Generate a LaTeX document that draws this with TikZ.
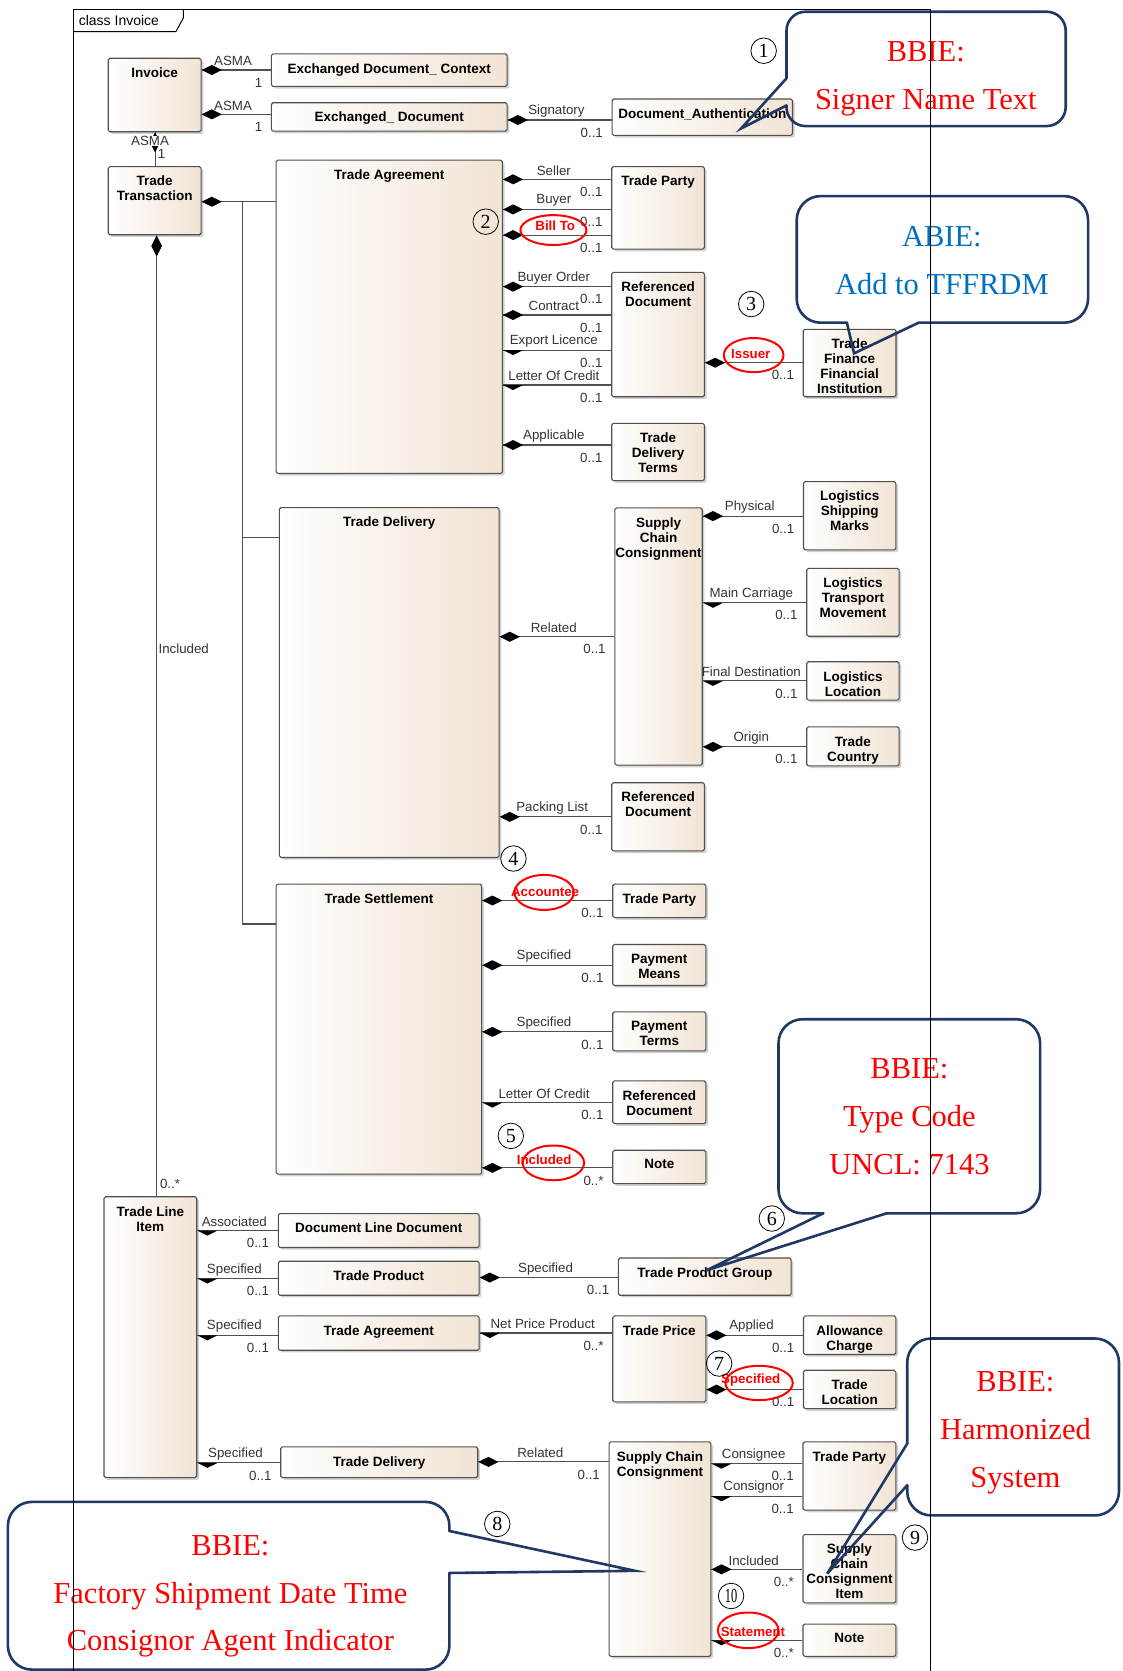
\documentclass[tikz,border=0pt]{standalone}
\usepackage{fontspec}
\usepackage{graphicx}
\setmainfont{Liberation Sans}
\newfontfamily\noteserif{Liberation Serif}
\usetikzlibrary{calc,fit,shadows}

\definecolor{beige}{RGB}{242,228,213}
\definecolor{navy}{RGB}{31,56,100}
\definecolor{abie}{RGB}{0,112,192}
\definecolor{edge}{RGB}{80,80,80}

\tikzset{
  box/.style={draw=edge, line width=1.1pt, rounded corners=1.6pt, inner sep=0pt,
    left color=white, right color=beige,
    drop shadow={shadow xshift=2.2pt, shadow yshift=-2.2pt, opacity=.3, fill=black!60}},
  clsname/.style={font=\fontsize{13.5}{15}\selectfont\bfseries, align=center, inner sep=0pt, text=black},
  conn/.style={draw=edge, line width=1.1pt},
  dmd/.style={fill=black},
  role/.style={font=\fontsize{13.3}{14}\selectfont, text=black!80, inner sep=0pt},
  mult/.style={role},
  redrole/.style={font=\fontsize{13.3}{14}\selectfont\bfseries, text=red, inner sep=0pt},
  ring/.style={draw=red, line width=2pt},
  notebubble/.style={draw=navy, line width=2.6pt, line cap=round, rounded corners=24pt},
  notetip/.style={draw=navy, line width=2.6pt, line cap=round},
  notetext/.style={font=\noteserif\fontsize{30.5}{47.8}\selectfont, align=center, inner sep=0pt, text=red, anchor=north},
  numc/.style={circle, draw=black, line width=0.8pt, inner sep=0pt, minimum size=25.5pt,
    font=\noteserif\fontsize{20}{20}\selectfont},
  diagframe/.style={draw=black, line width=1pt},
}

% a class box spanning two corners, its name set at the top
\newcommand\umlclass[6]{%
  \node[box, fit={(#2,#3) (#4,#5)}] (#1) {};
  \node[clsname, anchor=north] at ($(#1.north)+(0,9.2)$) {#6};
}

% horizontal composition: #1 f = full diamond, h = lower half, #2 whole, #3 part,
% #4 row, #5 role name, #6 multiplicity
\newcommand\umlassoc[6]{%
  \coordinate (s) at (#2.east |- 0,#4);
  \coordinate (t) at (#3.west |- 0,#4);
  \draw[conn] (s) -- (t);
  \if#1f\fill[dmd] (s) -- ++(9.5,-4.7) -- ++(9.5,4.7) -- ++(-9.5,4.7) -- cycle;
  \else\fill[dmd] (s) -- ++(19,0) -- ++(-9.5,4.7) -- cycle;\fi
  \node[role] at ($(s)!.5!(t)+(-3,-8.3)$) {#5};
  \node[mult, anchor=east] at ($(t)+(-8,11.8)$) {#6};
}

\begin{document}
\begin{tikzpicture}[x=1.0655pt, y=-1.0655pt]
\useasboundingbox (0,0) rectangle (1053,1568);

% ---------- classes ----------
\umlclass{inv}{101.6}{54.7}{188.7}{123.6}{Invoice}
\umlclass{edc}{254.7}{50.5}{475.9}{81}{Exchanged Document\_ Context}
\umlclass{ed}{254.7}{96.4}{475.9}{123}{Exchanged\_ Document}
\umlclass{da}{574.4}{92.9}{743.6}{127}{Document\_Authentication}
\umlclass{tt}{101.6}{156.4}{188.7}{220.3}{Trade\\Transaction}
\umlclass{ta}{259.1}{150.2}{471.4}{444.2}{Trade Agreement}
\umlclass{tp1}{574}{156.4}{661}{233.7}{Trade Party}
\umlclass{rd1}{574}{255.6}{661}{372.3}{Referenced\\Document}
\umlclass{tdt}{574}{397.3}{661}{451}{Trade\\Delivery\\Terms}
\umlclass{tffi}{753.7}{309}{840.8}{372.3}{Trade\\Finance\\Financial\\Institution}
\umlclass{td}{262.2}{476.3}{468.3}{804.6}{Trade Delivery}
\umlclass{scc}{577}{476.5}{659}{718}{Supply\\Chain\\Consignment}
\umlclass{lsm}{754}{452}{840.6}{516}{Logistics\\Shipping\\Marks}
\umlclass{ltm}{757}{533.4}{843.7}{597}{Logistics\\Transport\\Movement}
\umlclass{ll}{757}{621}{843.7}{657}{Logistics\\Location}
\umlclass{tc}{757}{682}{843.7}{718.6}{Trade\\Country}
\umlclass{rd2}{574}{734.5}{661}{798.4}{Referenced\\Document}
\umlclass{ts}{259.1}{829.6}{452}{1101.8}{Trade Settlement}
\umlclass{tp3}{575}{829.6}{662.3}{861}{Trade Party}
\umlclass{pm}{575}{886.3}{662.3}{924.7}{Payment\\Means}
\umlclass{pt}{575}{949.5}{662.3}{986.1}{Payment\\Terms}
\umlclass{rd3}{575}{1014.3}{662.3}{1054.3}{Referenced\\Document}
\umlclass{nt1}{575}{1079.3}{662.3}{1110.6}{Note}
\umlclass{tli}{97.6}{1123}{184.6}{1386.5}{Trade Line\\Item}
\umlclass{dld}{261.2}{1138.8}{449.6}{1170.6}{Document Line Document}
\umlclass{tpr}{261.2}{1183.5}{449.6}{1215.4}{Trade Product}
\umlclass{ta2}{261.2}{1234.8}{449.6}{1267}{Trade Agreement}
\umlclass{td2}{263.4}{1357.7}{448.3}{1386.5}{Trade Delivery}
\umlclass{tpg}{580.3}{1180.4}{742.4}{1215.4}{Trade Product Group}
\umlclass{tpc}{575}{1234.8}{662.3}{1315.5}{Trade Price}
\umlclass{ac}{754}{1234.8}{840.6}{1271}{Allowance\\Charge}
\umlclass{tl}{754}{1285.8}{840.6}{1321.8}{Trade\\Location}
\umlclass{scc2}{571.6}{1353}{667}{1554.2}{Supply Chain\\Consignment}
\umlclass{tp2}{753.5}{1353}{840.6}{1417}{Trade Party}
\umlclass{scci}{753.5}{1440}{840.6}{1504}{Supply\\Chain\\Consignment\\Item}
\umlclass{nt2}{753.5}{1524}{840.6}{1554.2}{Note}

% ---------- header associations ----------
\umlassoc{f}{inv}{edc}{65.7}{ASMA}{1}
\umlassoc{f}{inv}{ed}{107.3}{ASMA}{1}
\umlassoc{f}{ed}{da}{112.6}{Signatory}{0..1}

% Invoice owns Trade Transaction
\draw[conn] (inv.south -| 145.5,0) -- (tt.north -| 145.5,0);
\fill[dmd] (inv.south -| 145.5,0) -- ++(4.7,9.5) -- ++(-4.7,9.5) -- ++(-4.7,-9.5) -- cycle;
\node[role, fill=white, inner sep=0.6pt] (asma) at (140.8,132.3) {ASMA};
\node[role] (one) at (151.5,144.5) {1};

% Trade Transaction owns agreement, delivery and settlement
\coordinate (bus) at (227.8,189.3);
\draw[conn] (tt.east |- bus) -- (ta.west |- bus);
\fill[dmd] (tt.east |- bus) -- ++(9.5,-4.7) -- ++(9.5,4.7) -- ++(-9.5,4.7) -- cycle;
\draw[conn] (bus) -- (bus |- 0,867) -- (ts.west |- 0,867);
\draw[conn] (bus |- 0,504.6) -- (td.west |- 0,504.6);

% Trade Transaction owns the line items
\draw[conn] (tt.south -| 147,0) -- (tli.north -| 147,0);
\fill[dmd] (tt.south -| 147,0) -- ++(5,10) -- ++(-5,10) -- ++(-5,-10) -- cycle;
\node[role, anchor=west] (incl) at (148.6,609) {Included};
\node[mult, anchor=west] (many) at (150,1111) {0..*};

% ---------- agreement ----------
\umlassoc{f}{ta}{tp1}{168.3}{Seller}{0..1}
\umlassoc{f}{ta}{tp1}{196.5}{Buyer}{0..1}
\umlassoc{f}{ta}{tp1}{220.6}{}{0..1}
\umlassoc{f}{ta}{rd1}{269}{Buyer Order}{0..1}
\umlassoc{f}{ta}{rd1}{295.6}{Contract}{0..1}
\umlassoc{h}{ta}{rd1}{328.5}{Export Licence}{0..1}
\umlassoc{h}{ta}{rd1}{361.3}{Letter Of Credit}{0..1}
\umlassoc{f}{ta}{tdt}{417.6}{Applicable}{0..1}
\umlassoc{f}{rd1}{tffi}{340.4}{}{0..1}

% ---------- delivery ----------
\umlassoc{f}{td}{scc}{597.5}{Related}{0..1}
\umlassoc{f}{td}{rd2}{766.5}{Packing List}{0..1}
\umlassoc{f}{scc}{lsm}{484.3}{Physical}{0..1}
\umlassoc{h}{scc}{ltm}{565.6}{Main Carriage}{0..1}
\umlassoc{h}{scc}{ll}{638.9}{Final Destination}{0..1}
\umlassoc{f}{scc}{tc}{700.8}{Origin}{0..1}

% ---------- settlement ----------
\umlassoc{f}{ts}{tp3}{845}{}{0..1}
\umlassoc{f}{ts}{pm}{905.7}{Specified}{0..1}
\umlassoc{f}{ts}{pt}{968.3}{Specified}{0..1}
\umlassoc{h}{ts}{rd3}{1034.6}{Letter Of Credit}{0..1}
\umlassoc{f}{ts}{nt1}{1095.9}{}{0..*}

% ---------- line item ----------
\umlassoc{h}{tli}{dld}{1154.7}{Associated}{0..1}
\umlassoc{h}{tli}{tpr}{1199.7}{Specified}{0..1}
\umlassoc{h}{tli}{ta2}{1253}{Specified}{0..1}
\umlassoc{h}{tli}{td2}{1372.7}{Specified}{0..1}
\umlassoc{f}{tpr}{tpg}{1198.8}{Specified}{0..1}
\umlassoc{h}{ta2}{tpc}{1250.8}{Net Price Product}{0..*}
\umlassoc{f}{tpc}{ac}{1253}{Applied}{0..1}
\umlassoc{f}{tpc}{tl}{1303.9}{}{0..1}
\umlassoc{f}{td2}{scc2}{1371.8}{Related}{0..1}
\umlassoc{h}{scc2}{tp2}{1373.4}{Consignee}{0..1}
\umlassoc{h}{scc2}{tp2}{1404}{Consignor}{0..1}
\umlassoc{f}{scc2}{scci}{1472.6}{Included}{0..*}
\umlassoc{h}{scc2}{nt2}{1539.2}{}{0..*}

% ---------- highlighted roles ----------
\node[redrole] (billto) at (521,212) {Bill To};
\draw[ring] (519.3,215.9) ellipse [x radius=31, y radius=14];
\node[redrole] (issuer) at (704.5,332.6) {Issuer};
\draw[ring] (707.2,333.2) ellipse [x radius=28, y radius=16];
\node[redrole] (accountee) at (511.5,837) {Accountee};
\draw[ring] (510.6,837.4) ellipse [x radius=27.8, y radius=16.4];
\node[redrole] (included) at (510.6,1087.8) {Included};
\draw[ring] (519.3,1091.2) ellipse [x radius=28.8, y radius=16.3];
\node[redrole] (specified) at (704.5,1295.2) {Specified};
\draw[ring] (712.3,1297.7) ellipse [x radius=31.6, y radius=16.1];
\node[redrole] (statement) at (706.5,1531.4) {Statement};
\draw[ring] (702,1529.8) ellipse [x radius=28.4, y radius=16.7];

% ---------- numbered marks ----------
\node[numc] (m1) at (716.6,47.6) {1};
\node[numc] (m2) at (455.8,208) {2};
\node[numc] (m3) at (704.9,285.3) {3};
\node[numc] (m4) at (481.8,805.6) {4};
\node[numc] (m5) at (479.3,1065.9) {5};
\node[numc] (m6) at (724.2,1143.4) {6};
\node[numc] (m7) at (674.8,1279.5) {7};
\node[numc] (m8) at (466.6,1430) {8};
\node[numc] (m9) at (858.6,1442.8) {9};
\node[numc] (m10) at (686,1497.6) {\scalebox{0.62}[1]{10}};

% ---------- speech bubbles ----------
\draw[notebubble, rounded corners=19pt] (738,73.5) -- (738,11) -- (1000,11) -- (1000,118.3) -- (738,118.3) -- (738,99);
\draw[notetip] (738,99) -- (695.5,120.5) -- (738,73.5);
\node[notetext] (t1) at (868.7,39) {BBIE:\\Signer Name Text};

\draw[notebubble] (794.7,302.8) -- (747.6,302.8) -- (747.6,184) -- (1021,184) -- (1021,302.8) -- (862,302.8);
\draw[notetip] (862,302.8) -- (801.4,331.6) -- (794.7,302.8);
\node[notetext, text=abie] (t2) at (883.8,212.5) {ABIE:\\Add to TFFRDM};

\draw[notebubble] (772.5,1138.5) -- (730.5,1138.5) -- (730.5,956.4) -- (976,956.4) -- (976,1138.5) -- (832,1138.5);
\draw[notetip] (832,1138.5) -- (663,1192) -- (772.5,1138.5);
\node[notetext] (t3) at (853.4,993.5) {BBIE:\\Type Code\\UNCL: 7143};

\draw[notebubble] (851.3,1354.6) -- (851.3,1256) -- (1050,1256) -- (1050,1422) -- (851.3,1422) -- (851.3,1393.7);
\draw[notetip] (851.3,1393.7) -- (776.2,1476.6) -- (851.3,1354.6);
\node[notetext] (t4) at (952.8,1287.2) {BBIE:\\Harmonized\\System};

\draw[notebubble] (421.7,1436.6) -- (421.7,1409.3) -- (7.4,1409.3) -- (7.4,1566.7) -- (421.7,1566.7) -- (421.7,1476);
\draw[notetip] (421.7,1476) -- (596,1474) -- (421.7,1436.6);
\node[notetext] (t5) at (216.2,1440.5) {BBIE:\\Factory Shipment Date Time\\Consignor Agent Indicator};

% ---------- diagram frame ----------
\draw[diagframe] (68.8,1570) -- (68.8,9) -- (872.8,9) -- (872.8,1570);
\draw[diagframe] (68.8,29.7) -- (165,29.7) -- (172,17) -- (172,9);
\node[anchor=base west, font=\fontsize{14}{14}\selectfont, inner sep=0pt] (title) at (73.8,23.5) {class Invoice};
\end{tikzpicture}
\end{document}
